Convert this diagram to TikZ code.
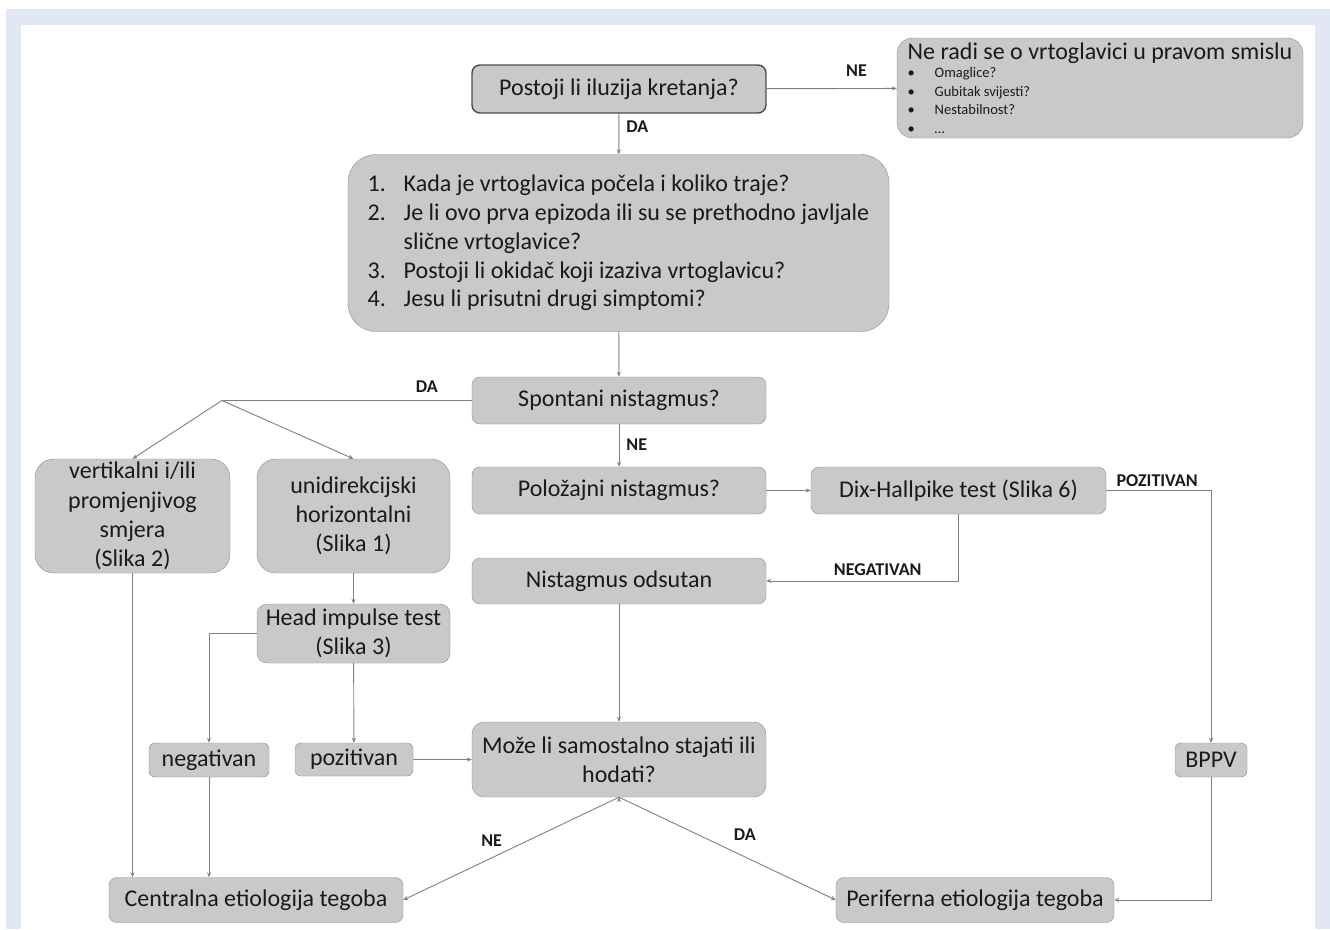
\documentclass[tikz,border=0pt]{standalone}
\usepackage{fontspec}
\setmainfont{Carlito}
\usetikzlibrary{positioning,calc,arrows.meta}
\definecolor{boxfill}{HTML}{C9C9C9}
\definecolor{boxline}{HTML}{8C8C8C}
\definecolor{linegray}{HTML}{808080}
\definecolor{textdark}{HTML}{1A1A1A}
\definecolor{frameblue}{HTML}{E1E7F3}
\newcommand{\bul}[1]{\makebox[27pt][l]{\textbullet}#1}
\newcommand{\nr}[1]{\makebox[36pt][l]{#1}}

\begin{document}
\begin{tikzpicture}[x=1pt, y=-1pt, >={Stealth[length=5pt, width=4pt]},
	box/.style={draw=boxline, fill=boxfill, rounded corners=8pt, inner sep=0pt, align=center, text=textdark, font=\fontsize{24}{29.2}\selectfont},
	lbl/.style={font=\bfseries\fontsize{18}{18}\selectfont, text=textdark, inner sep=1pt},
	conn/.style={draw=linegray, line width=0.9pt}]
	\useasboundingbox (0,0) rectangle (1330,929);
	\fill[frameblue] (6,9) rectangle (1330,929);
	\fill[white] (21,25) rectangle (1315,929);

	% upper part
	\node[box, draw=black!70, line width=1.4pt, minimum width=294, minimum height=48] (iluzija) at (619,89) {Postoji li iluzija kretanja?};
	\node[box, rounded corners=16pt, minimum width=406, minimum height=100, align=left, font=\fontsize{14.5}{18.5}\selectfont] (nijevrt) at (1100,88)
		{{\fontsize{24}{26}\selectfont Ne radi se o vrtoglavici u pravom smislu}\\ \bul{Omaglice?}\\ \bul{Gubitak svijesti?}\\ \bul{Nestabilnost?}\\ \bul{\ldots}};
	\node[box, rounded corners=28pt, minimum width=541, minimum height=177, align=left, font=\fontsize{24}{28.8}\selectfont] (pitanja) at (618.5,243)
		{\nr{1.}Kada je vrtoglavica počela i koliko traje?\\ \nr{2.}Je li ovo prva epizoda ili su se prethodno javljale\\ \nr{}slične vrtoglavice?\\ \nr{3.}Postoji li okidač koji izaziva vrtoglavicu?\\ \nr{4.}Jesu li prisutni drugi simptomi?};
	\node[box, minimum width=294, minimum height=47] (spontani) at (619,400.5) {Spontani nistagmus?};
	\coordinate (grana) at (222,400.5);

	% left column
	\node[box, rounded corners=19pt, minimum width=195, minimum height=114] (vertikalni) at (132.5,516) {vertikalni i/ili\\ promjenjivog\\ smjera\\ (Slika 2)};
	\node[box, rounded corners=19pt, minimum width=193, minimum height=114] (unidir) at (353.5,516) {unidirekcijski\\ horizontalni\\ (Slika 1)};
	\node[box, rounded corners=10pt, minimum width=193, minimum height=59] (hit) at (353.5,633.5) {Head impulse test\\ (Slika 3)};
	\node[box, rounded corners=6pt, minimum width=120, minimum height=34] (negativan) at (209,760) {negativan};
	\node[box, rounded corners=6pt, minimum width=118, minimum height=33] (pozitivan) at (354,759.5) {pozitivan};

	% middle and right
	\node[box, minimum width=294, minimum height=47] (polozajni) at (619,490.5) {Položajni nistagmus?};
	\node[box, minimum width=295, minimum height=47] (dix) at (958.5,490.5) {Dix-Hallpike test (Slika 6)};
	\node[box, minimum width=294, minimum height=46] (odsutan) at (619,581) {Nistagmus odsutan};
	\node[box, rounded corners=12pt, minimum width=294, minimum height=75] (stajati) at (619,759.5) {Može li samostalno stajati ili\\ hodati?};
	\node[box, rounded corners=6pt, minimum width=72, minimum height=34] (bppv) at (1211,760) {BPPV};

	% bottom
	\node[box, minimum width=294, minimum height=45] (centralna) at (256,900) {Centralna etiologija tegoba};
	\node[box, minimum width=278, minimum height=45] (periferna) at (975,900) {Periferna etiologija tegoba};

	\path[->, conn]
	(iluzija) edge node [lbl, pos=0.69, above=11pt] {NE} (nijevrt)
	          edge node [lbl, pos=0.32, right=6pt] {DA} (pitanja)
	(pitanja) edge (spontani)
	(spontani) edge node [lbl, pos=0.47, right=6pt] {NE} (polozajni)
	(grana) edge (vertikalni.north)
	        edge (unidir.north)
	(unidir) edge (hit)
	(hit) edge (pozitivan)
	(pozitivan) edge (stajati)
	(polozajni) edge (dix)
	(odsutan) edge (stajati)
	(stajati.south) edge node [lbl, pos=0.59, above=10pt] {NE} (centralna.east)
	                edge node [lbl, pos=0.58, above=15pt] {DA} (periferna.west);
	\draw[conn] (spontani.west) -- node [lbl, pos=0.18, above=7pt] {DA} (grana);
	\draw[->, conn] (dix.east) -| node [lbl, pos=0, anchor=south west, xshift=9pt, yshift=2pt] {POZITIVAN} (bppv.north);
	\draw[->, conn] (dix.south) |- node [lbl, pos=0.71, above=4pt] {NEGATIVAN} (odsutan.east);
	\draw[->, conn] (hit.west) -| (negativan.north);
	\draw[->, conn] (vertikalni.south) -- (vertikalni.south |- centralna.north);
	\draw[->, conn] (negativan.south) -- (negativan.south |- centralna.north);
	\draw[->, conn] (bppv.south) |- (periferna.east);
\end{tikzpicture}
\end{document}
